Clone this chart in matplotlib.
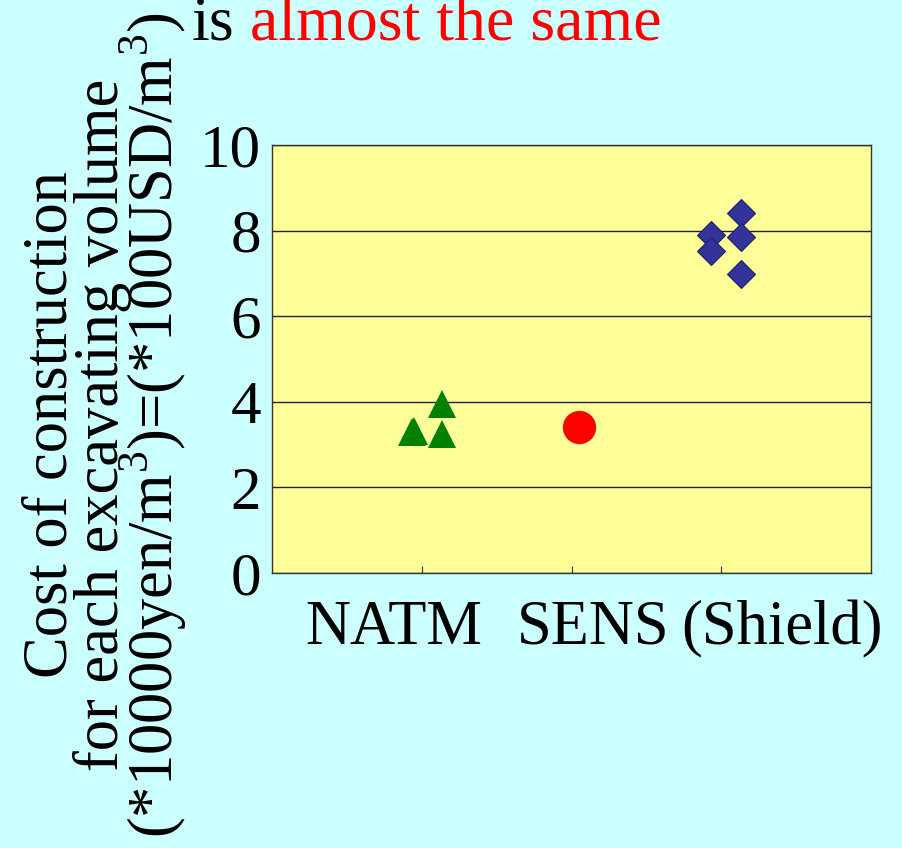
import matplotlib
matplotlib.use("Agg")
import matplotlib.pyplot as plt
import matplotlib.transforms as mtransforms

# data
categories = ["NATM", "SENS", "(Shield)"]
natm_x = [0.935, 0.945, 1.133, 1.133]
natm_y = [3.30, 3.32, 3.95, 3.25]
sens_x = [2.047]
sens_y = [3.42]
shield_x = [3.13, 3.13, 3.13, 2.93, 2.93]
shield_y = [8.42, 7.86, 6.98, 7.90, 7.53]
yticks = [0, 2, 4, 6, 8, 10]

plt.rcParams["font.family"] = ["Liberation Serif", "DejaVu Serif"]
plt.rcParams["mathtext.fontset"] = "custom"
plt.rcParams["mathtext.rm"] = "Liberation Serif"

BG = "#CCFFFF"
PLOT_BG = "#FFFF99"

fig = plt.figure(figsize=(9.02, 8.48), dpi=100, facecolor=BG)
ax = fig.add_axes([272 / 902, 1 - 573 / 848, 599 / 902, 428 / 848])
ax.set_facecolor(PLOT_BG)

ax.set_xlim(0, 4)
ax.set_ylim(0, 10)
ax.set_yticks(yticks)
ax.set_yticklabels([str(v) for v in yticks], fontsize=44)
ax.tick_params(axis="y", length=0, pad=8)
ax.set_xticks([1, 2, 3])
ax.set_xticklabels([])
ax.tick_params(axis="x", direction="in", length=5, width=0.8, color="#333333")

ax.grid(axis="y", color="#222222", linewidth=1.0)
ax.set_axisbelow(True)
for s in ax.spines.values():
    s.set_color("#333333")
    s.set_linewidth(1.0)

ax.plot(natm_x, natm_y, "^", color="#008000", markersize=20, markeredgewidth=0, zorder=3)
ax.plot(sens_x, sens_y, "o", color="#FF0000", markersize=24, markeredgewidth=0, zorder=3)
ax.plot(shield_x, shield_y, "D", color="#333399", markersize=14.5,
        markeredgecolor="#1f1f66", markeredgewidth=0.8, zorder=3)

# category labels sit a bit off the tick marks, as on the slide
label_pos = [0.813, 2.147, 3.403]
trans = mtransforms.blended_transform_factory(ax.transData, fig.transFigure)
for xp, lab in zip(label_pos, categories):
    ax.text(xp, 1 - 644 / 848, lab, transform=trans, ha="center", va="baseline",
            fontsize=45)

# y label: three rotated lines
ylines = [
    "Cost of construction",
    "for each excavating volume",
    "(*10000yen/m$^3$)=(*100USD/m$^3$)",
]
ybase = [67, 118, 173]
for xb, txt in zip(ybase, ylines):
    fig.text(xb / 902, 1 - 425 / 848, txt, rotation=90, rotation_mode="anchor",
             ha="center", va="baseline", fontsize=45)

# title fragment at the top
fig.text(192 / 902, 1 - 40 / 848, "is", ha="left", va="baseline", fontsize=46)
fig.text(250 / 902, 1 - 40 / 848, "almost the same", ha="left", va="baseline",
         fontsize=46, color="#FF0000")

fig.savefig("out.png", dpi=100, facecolor=BG)
